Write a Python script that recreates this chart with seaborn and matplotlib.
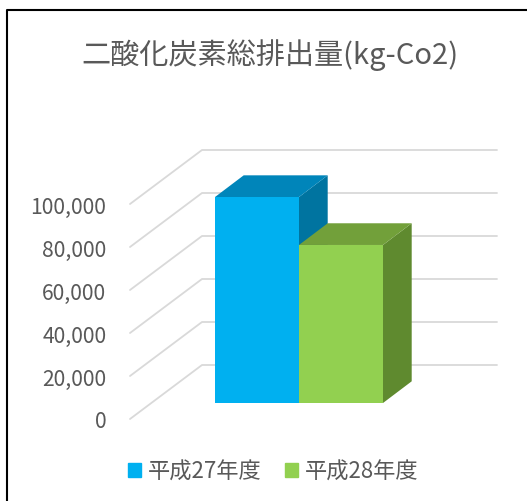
import numpy as np
import pandas as pd
import matplotlib
matplotlib.use("Agg")
import matplotlib.pyplot as plt
from matplotlib.patches import Patch
import seaborn as sns

years = ["平成27年度", "平成28年度"]
emissions = [95800, 73500]
tick_values = [0, 20000, 40000, 60000, 80000, 100000]
tick_labels = ["0", "20,000", "40,000", "60,000", "80,000", "100,000"]
title = "二酸化炭素総排出量(kg-Co2)"

front_colors = ["#00B0F0", "#92D050"]
top_colors = ["#0085BA", "#72A03A"]
side_colors = ["#0074A0", "#5F8A2F"]
grid_color = "#D9D9D9"
text_color = "#595959"

W, H = 527, 502
sns.set_theme(style="white")
plt.rcParams["font.family"] = ["Noto Sans CJK JP", "DejaVu Sans"]

fig = plt.figure(figsize=(W / 100, H / 100), dpi=100)
# axes runs from the front-left floor corner to the top right of the back wall
left, right, bottom, top = 130, 497, 420, 151
ax = fig.add_axes([left / W, 1 - bottom / H, (right - left) / W, (bottom - top) / H])

px_per_value = 2.15 / 1000
px_per_cat = 84
bar_lift = 16 / px_per_value  # bars stand a bit in from the front edge of the floor
depth_x = 28.7 / px_per_cat
depth_y = 21.7 / px_per_value

df = pd.DataFrame({"year": years, "co2": emissions})
sns.barplot(data=df, x="year", y="co2", hue="year", palette=front_colors, dodge=False,
            width=1, bottom=bar_lift, saturation=1, ax=ax, zorder=5, linewidth=0)

x_min = -0.5 - (215 - left) / px_per_cat
x_max = -0.5 + (right - 215) / px_per_cat
ax.set_xlim(x_min, x_max)
ax.set_ylim(0, (bottom - top) / px_per_value)

# back wall and left wall lines
wall_x = x_min + 72 / px_per_cat
wall_y = 54 / px_per_value
for v in tick_values:
    ax.plot([x_min, wall_x, x_max], [v, v + wall_y, v + wall_y], color=grid_color, lw=1.3, zorder=1,
            clip_on=False, solid_joinstyle="round")

# depth faces of the bars
for i, v in enumerate(emissions):
    y0, y1 = bar_lift, bar_lift + v
    ax.fill([i + 0.5, i + 0.5 + depth_x, i + 0.5 + depth_x, i + 0.5],
            [y0, y0 + depth_y, y1 + depth_y, y1], color=side_colors[i], lw=0, zorder=2 + i)
    ax.fill([i - 0.5, i - 0.5 + depth_x, i + 0.5 + depth_x, i + 0.5],
            [y1, y1 + depth_y, y1 + depth_y, y1], color=top_colors[i], lw=0, zorder=2 + i)

ax.set_yticks(tick_values)
ax.set_yticklabels(tick_labels, color=text_color, fontsize=15.2)
ax.tick_params(axis="y", length=0, pad=17)
ax.set_xticks([])
ax.set_xlabel("")
ax.set_ylabel("")
sns.despine(ax=ax, left=True, bottom=True)
ax.patch.set_alpha(0)

handles = [Patch(color=c, label=y) for c, y in zip(front_colors, years)]
ax.legend(handles=handles, loc="center", bbox_to_anchor=(273.3 / W, 1 - 472 / H),
          bbox_transform=fig.transFigure, ncol=2, frameon=False, fontsize=16,
          labelcolor=text_color, handlelength=0.59, handleheight=0.59, handletextpad=0.32,
          columnspacing=1.05, borderpad=0)

fig.text(270 / W, 1 - 55 / H, title, ha="center", va="center", fontsize=21, color=text_color)

# frame: only the left and top edges show
fig.add_artist(plt.Line2D([6.5 / W, 6.5 / W, 1], [0, 1 - 11 / H, 1 - 11 / H], transform=fig.transFigure,
                          color="black", lw=1.5))

fig.savefig("out.png", dpi=100)
plt.close(fig)
